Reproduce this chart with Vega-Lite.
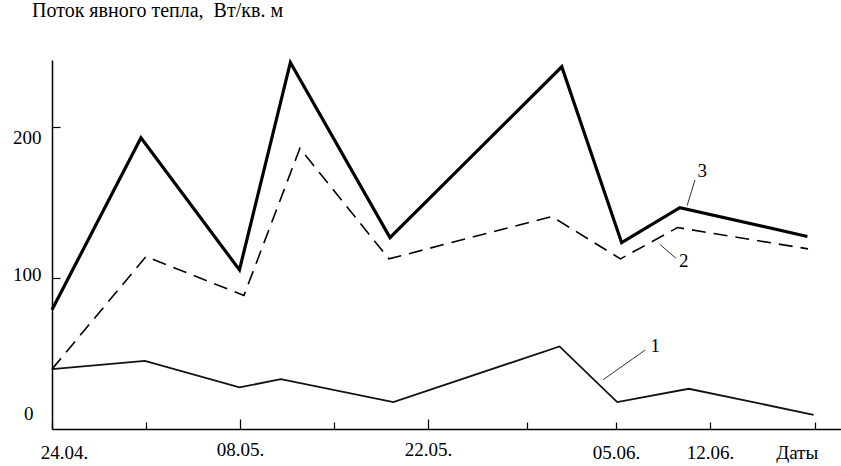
{
  "$schema": "https://vega.github.io/schema/vega-lite/v6.json",
  "width": 789,
  "height": 369,
  "autosize": {"type": "none"},
  "padding": {"left": 52, "top": 60, "right": 0, "bottom": 37},
  "background": "white",
  "config": {
    "view": {"stroke": null},
    "axis": {"grid": false, "labelFont": "Liberation Serif", "labelFontSize": 19, "labelColor": "#000", "domainColor": "#000", "tickColor": "#000", "domainWidth": 1.5, "tickWidth": 1.2, "title": null},
    "title": {"font": "Liberation Serif", "fontSize": 20, "fontWeight": "normal", "color": "#000"}
  },
  "title": {"text": "Поток явного тепла, \u00a0Вт/кв. м", "anchor": "start", "frame": "group", "dx": -20, "offset": 35},
  "datasets": {
    "series": [
      {"date": "2001-04-24T00:00Z", "value": 78.8, "series": "3"},
      {"date": "2001-04-30T15:00Z", "value": 192.6, "series": "3"},
      {"date": "2001-05-07T23:00Z", "value": 105.2, "series": "3"},
      {"date": "2001-05-11T18:00Z", "value": 242.4, "series": "3"},
      {"date": "2001-05-19T04:00Z", "value": 126.6, "series": "3"},
      {"date": "2001-05-31T23:00Z", "value": 239.5, "series": "3"},
      {"date": "2001-06-05T10:00Z", "value": 123.2, "series": "3"},
      {"date": "2001-06-09T18:00Z", "value": 146.4, "series": "3"},
      {"date": "2001-06-19T06:00Z", "value": 127.3, "series": "3"},
      {"date": "2001-04-24T00:00Z", "value": 39.6, "series": "2"},
      {"date": "2001-05-01T00:00Z", "value": 114.0, "series": "2"},
      {"date": "2001-05-08T07:00Z", "value": 88.3, "series": "2"},
      {"date": "2001-05-12T11:00Z", "value": 185.6, "series": "2"},
      {"date": "2001-05-19T02:00Z", "value": 112.5, "series": "2"},
      {"date": "2001-05-31T05:00Z", "value": 140.5, "series": "2"},
      {"date": "2001-06-05T08:00Z", "value": 112.5, "series": "2"},
      {"date": "2001-06-09T14:00Z", "value": 133.2, "series": "2"},
      {"date": "2001-06-19T07:00Z", "value": 119.1, "series": "2"},
      {"date": "2001-04-24T00:00Z", "value": 39.6, "series": "1"},
      {"date": "2001-04-30T22:00Z", "value": 45.1, "series": "1"},
      {"date": "2001-05-07T23:00Z", "value": 27.5, "series": "1"},
      {"date": "2001-05-11T01:00Z", "value": 33.0, "series": "1"},
      {"date": "2001-05-19T10:00Z", "value": 17.8, "series": "1"},
      {"date": "2001-05-31T19:00Z", "value": 54.6, "series": "1"},
      {"date": "2001-06-05T02:00Z", "value": 17.8, "series": "1"},
      {"date": "2001-06-10T10:00Z", "value": 26.6, "series": "1"},
      {"date": "2001-06-19T17:00Z", "value": 9.4, "series": "1"}
    ],
    "notes": [
      {"label": "3", "from": "2001-06-10T07:00Z", "fromValue": 147.7, "to": "2001-06-10T21:00Z", "toValue": 164.6, "at": "2001-06-11T10:00Z", "atValue": 170.4},
      {"label": "2", "from": "2001-06-08T06:00Z", "fromValue": 122.2, "to": "2001-06-09T11:00Z", "toValue": 112.9, "at": "2001-06-10T01:00Z", "atValue": 111.0},
      {"label": "1", "from": "2001-06-04T01:00Z", "fromValue": 32.6, "to": "2001-06-07T04:00Z", "toValue": 52.2, "at": "2001-06-07T22:00Z", "atValue": 54.8}
    ]
  },
  "encoding": {
    "x": {
      "field": "date", "type": "temporal",
      "scale": {"type": "utc", "nice": false, "domain": [{"year": 2001, "month": 4, "date": 24, "utc": true}, {"year": 2001, "month": 6, "date": 21, "hours": 18, "utc": true}]},
      "axis": {
        "values": [
          {"year": 2001, "month": 4, "date": 24, "utc": true},
          {"year": 2001, "month": 5, "date": 1, "utc": true},
          {"year": 2001, "month": 5, "date": 8, "utc": true},
          {"year": 2001, "month": 5, "date": 15, "utc": true},
          {"year": 2001, "month": 5, "date": 22, "utc": true},
          {"year": 2001, "month": 5, "date": 29, "hours": 9, "utc": true},
          {"year": 2001, "month": 6, "date": 5, "utc": true},
          {"year": 2001, "month": 6, "date": 12, "utc": true},
          {"year": 2001, "month": 6, "date": 19, "hours": 19, "utc": true}
        ],
        "labelExpr": "utcdate(datum.value) == 19 ? 'Даты' : ((utcdate(datum.value) == 1 || utcdate(datum.value) == 15 || utcdate(datum.value) == 29) ? '' : utcFormat(datum.value, '%d.%m.'))",
        "tickSize": {"condition": {"test": "utcdate(datum.value) == 8 || utcdate(datum.value) == 22", "value": -10}, "value": -7},
        "labelPadding": 21,
        "labelOffset": {"condition": [{"test": "utcdate(datum.value) == 24", "value": 12}, {"test": "utcdate(datum.value) == 19", "value": -18}], "value": 0},
        "labelOverlap": false,
        "labelFlush": false
      }
    },
    "y": {
      "field": "value", "type": "quantitative",
      "scale": {"domain": [0, 244], "nice": false, "zero": true},
      "axis": {
        "values": [0, 100, 200],
        "tickSize": {"condition": {"test": "datum.value == 0", "value": 0}, "value": -8},
        "labelPadding": 19,
        "labelOffset": {"condition": [{"test": "datum.value == 0", "value": -16}, {"test": "datum.value == 200", "value": 11}], "value": -3}
      }
    }
  },
  "layer": [
    {
      "data": {"name": "series"},
      "transform": [{"filter": "datum.series == '1'"}],
      "mark": {"type": "line", "color": "#111", "strokeWidth": 1.8, "strokeJoin": "miter"}
    },
    {
      "data": {"name": "series"},
      "transform": [{"filter": "datum.series == '2'"}],
      "mark": {"type": "line", "color": "#000", "strokeWidth": 1.6, "strokeDash": [14, 8], "strokeJoin": "miter"}
    },
    {
      "data": {"name": "series"},
      "transform": [{"filter": "datum.series == '3'"}],
      "mark": {"type": "line", "color": "#000", "strokeWidth": 3.2, "strokeJoin": "miter"}
    },
    {
      "data": {"name": "notes"},
      "mark": {"type": "rule", "color": "#333", "strokeWidth": 1},
      "encoding": {
        "x": {"field": "from", "type": "temporal"},
        "y": {"field": "fromValue", "type": "quantitative"},
        "x2": {"field": "to"},
        "y2": {"field": "toValue"}
      }
    },
    {
      "data": {"name": "notes"},
      "mark": {"type": "text", "font": "Liberation Serif", "fontSize": 19, "color": "#000", "align": "center", "baseline": "middle"},
      "encoding": {
        "x": {"field": "at", "type": "temporal"},
        "y": {"field": "atValue", "type": "quantitative"},
        "text": {"field": "label"}
      }
    }
  ]
}
